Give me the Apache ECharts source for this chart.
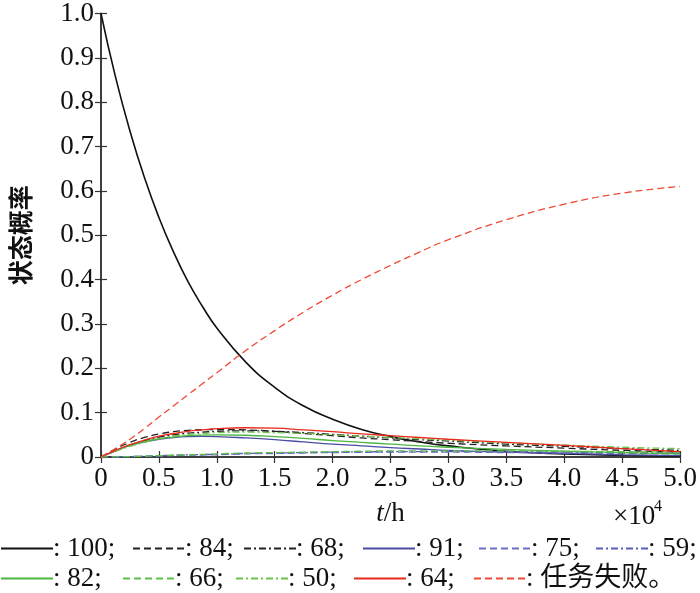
<!DOCTYPE html>
<html>
<head>
<meta charset="utf-8">
<script src="https://cdn.jsdelivr.net/npm/echarts@6/dist/echarts.min.js"></script>
<style>
  html, body { margin: 0; padding: 0; background: #fff; }
  #chart { width: 700px; height: 593px; }
</style>
</head>
<body>
<div id="chart"></div>
<script>
// time, x 10^4 h
const tHours = [0, 0.125, 0.25, 0.375, 0.5, 0.625, 0.75, 0.875, 1.0, 1.25, 1.5, 1.75, 2.0, 2.25, 2.5, 2.75, 3.0, 3.5, 4.0, 4.5, 5.0]

// state probabilities
const s100 = [1.0, 0.857, 0.735, 0.63, 0.54, 0.463, 0.396, 0.34, 0.291, 0.214, 0.157, 0.115, 0.085, 0.062, 0.046, 0.034, 0.025, 0.013, 0.007, 0.004, 0.002]
const s84 = [0, 0.018, 0.033, 0.044, 0.052, 0.057, 0.060, 0.0615, 0.062, 0.061, 0.058, 0.053, 0.048, 0.043, 0.039, 0.035, 0.031, 0.025, 0.020, 0.015, 0.011]
const s68 = [0, 0.014, 0.027, 0.037, 0.045, 0.050, 0.054, 0.056, 0.058, 0.059, 0.058, 0.055, 0.051, 0.047, 0.043, 0.039, 0.036, 0.029, 0.024, 0.019, 0.015]
const s91 = [0, 0.014, 0.026, 0.034, 0.040, 0.044, 0.046, 0.0465, 0.046, 0.043, 0.039, 0.034, 0.029, 0.025, 0.021, 0.018, 0.015, 0.011, 0.008, 0.005, 0.003]
const s75 = [0, 0.0005, 0.001, 0.0015, 0.002, 0.003, 0.004, 0.0045, 0.005, 0.007, 0.008, 0.009, 0.010, 0.0105, 0.011, 0.011, 0.011, 0.010, 0.009, 0.008, 0.007]
const s59 = [0, 0.0005, 0.001, 0.002, 0.003, 0.004, 0.005, 0.0055, 0.006, 0.008, 0.009, 0.010, 0.011, 0.0115, 0.012, 0.012, 0.012, 0.012, 0.011, 0.010, 0.009]
const s82 = [0, 0.014, 0.026, 0.035, 0.041, 0.045, 0.048, 0.0495, 0.050, 0.049, 0.046, 0.042, 0.037, 0.033, 0.029, 0.025, 0.022, 0.017, 0.013, 0.010, 0.007]
const s66 = [0, 0.0005, 0.001, 0.002, 0.003, 0.004, 0.005, 0.006, 0.007, 0.009, 0.010, 0.011, 0.012, 0.013, 0.014, 0.014, 0.014, 0.014, 0.013, 0.012, 0.011]
const s50 = [0, 0.013, 0.024, 0.033, 0.041, 0.047, 0.051, 0.053, 0.055, 0.056, 0.055, 0.053, 0.050, 0.047, 0.044, 0.041, 0.038, 0.032, 0.027, 0.022, 0.019]
const s64 = [0, 0.015, 0.028, 0.038, 0.047, 0.053, 0.058, 0.061, 0.064, 0.066, 0.065, 0.061, 0.057, 0.052, 0.048, 0.044, 0.040, 0.033, 0.026, 0.019, 0.012]
const sFail = [0, 0.019, 0.04, 0.064, 0.09, 0.115, 0.14, 0.165, 0.19, 0.24, 0.285, 0.327, 0.365, 0.40, 0.432, 0.462, 0.49, 0.535, 0.57, 0.595, 0.61]

const serif = 'Liberation Serif, Times New Roman, serif'
const cjk = 'Noto Sans CJK SC'

const dash = [7, 4]
const dashDot = [7, 3, 2, 3]

// name, values, colour, line type
const lines = [
  ['100', s100, '#111111', 'solid'],
  ['84', s84, '#222222', dash],
  ['68', s68, '#222222', dashDot],
  ['91', s91, '#4a4ea3', 'solid'],
  ['75', s75, '#6a6ec4', dash],
  ['59', s59, '#5a5eb6', dashDot],
  ['82', s82, '#4cb641', 'solid'],
  ['66', s66, '#5cbf4a', dash],
  ['50', s50, '#6cc24a', dashDot],
  ['64', s64, '#e8291c', 'solid'],
  ['任务失败', sFail, '#ee4a35', dash]
]

// where each legend entry sits: [left, top]
const legendSpots = {
  '100': [0, 535], '84': [132, 535], '68': [243, 535], '91': [362, 535], '75': [478, 535], '59': [595, 535],
  '82': [0, 565], '66': [122, 565], '50': [235, 565], '64': [353, 565], '任务失败': [473, 565]
}

const chart = echarts.init(document.getElementById('chart'))

const fmt = v => (v === 0 ? '0' : v.toFixed(1))

const legendText = name => ': ' + name + (name === '任务失败' ? '。' : ';')

const legends = lines.map(([name]) => ({
  orient: 'horizontal',
  left: legendSpots[name][0],
  top: legendSpots[name][1],
  padding: 0,
  itemWidth: 52,
  itemHeight: 26,
  selectedMode: false,
  data: [name],
  formatter: legendText,
  itemStyle: { opacity: 0 },
  textStyle: { fontFamily: serif + ', ' + cjk, fontSize: 27, color: '#111', padding: [0, 0, 0, -5] }
}))

const axisLine = { show: true, lineStyle: { color: '#333', width: 1.5 } }
const tick = { show: true, inside: true, length: 6, lineStyle: { color: '#333', width: 1.2 } }

const option = {
  animation: false,
  backgroundColor: '#fff',
  grid: { left: 99, right: 17, top: 11, bottom: 136 },
  legend: legends,
  xAxis: [
    {
      type: 'value',
      min: 0,
      max: 5,
      interval: 0.5,
      name: '{i|t}/h',
      nameLocation: 'middle',
      nameGap: 43,
      nameTextStyle: {
        fontFamily: serif,
        fontSize: 27,
        color: '#111',
        rich: { i: { fontFamily: serif, fontStyle: 'italic', fontSize: 27, color: '#111' } }
      },
      axisLine: axisLine,
      axisTick: tick,
      axisLabel: { formatter: fmt, fontFamily: serif, fontSize: 27, color: '#111', margin: 8 },
      splitLine: { show: false }
    },
    {
      type: 'value',
      position: 'top',
      min: 0,
      max: 5,
      interval: 0.5,
      axisLine: axisLine,
      axisTick: tick,
      axisLabel: { show: false },
      splitLine: { show: false }
    }
  ],
  yAxis: [
    {
      type: 'value',
      min: 0,
      max: 1,
      interval: 0.1,
      name: '状态概率',
      nameLocation: 'middle',
      nameRotate: 90,
      nameGap: 68,
      nameTextStyle: { fontFamily: cjk, fontWeight: 'bold', fontSize: 25, color: '#111' },
      axisLine: axisLine,
      axisTick: tick,
      axisLabel: { formatter: fmt, fontFamily: serif, fontSize: 27, color: '#111', margin: 7 },
      splitLine: { show: false }
    },
    {
      type: 'value',
      position: 'right',
      min: 0,
      max: 1,
      interval: 0.1,
      axisLine: axisLine,
      axisTick: tick,
      axisLabel: { show: false },
      splitLine: { show: false }
    }
  ],
  graphic: [
    {
      type: 'text',
      left: 613,
      top: 503,
      style: { text: '×10', font: '27px ' + serif, fill: '#111' }
    },
    {
      type: 'text',
      left: 654,
      top: 499,
      style: { text: '4', font: '16px ' + serif, fill: '#111' }
    }
  ],
  series: lines.map(([name, vals, color, type]) => ({
    name: name,
    type: 'line',
    smooth: true,
    symbol: 'none',
    data: tHours.map((t, i) => [t, vals[i]]),
    lineStyle: { color: color, width: name === '100' ? 1.6 : 1.3, type: type },
    itemStyle: { color: color }
  }))
}

chart.setOption(option)
</script>
</body>
</html>
